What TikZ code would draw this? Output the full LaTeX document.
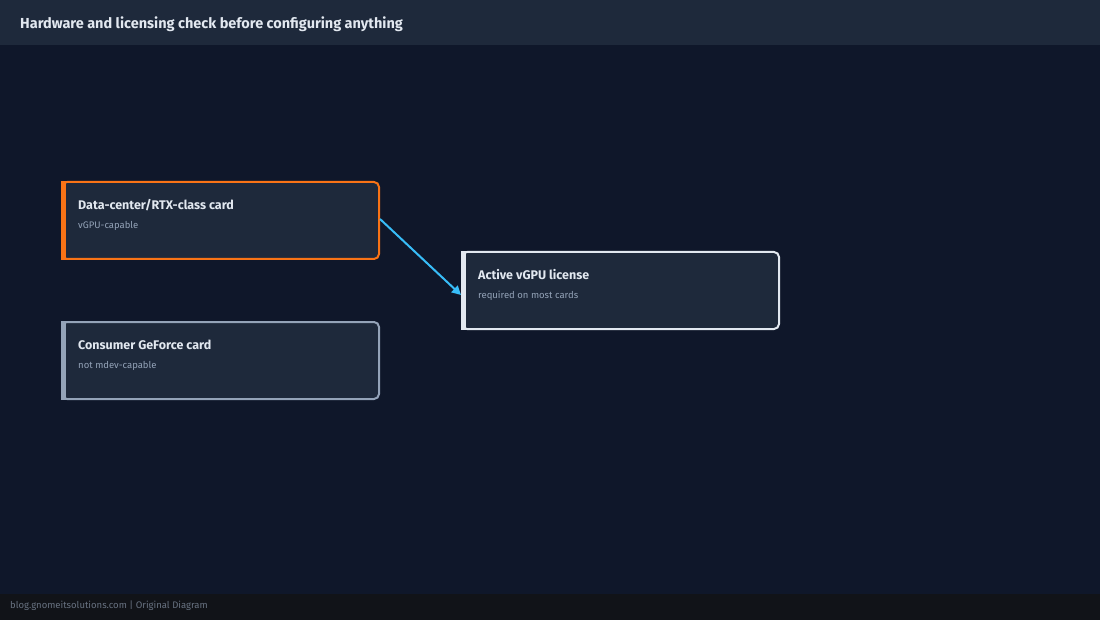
\documentclass[tikz,border=0pt]{standalone}
\usepackage{fontspec}
\setmainfont{Fira Sans}
\usetikzlibrary{arrows.meta}
\definecolor{bg}{HTML}{0F172A}
\definecolor{hdr}{HTML}{1E293B}
\definecolor{foot}{HTML}{111318}
\definecolor{card}{HTML}{1E293B}
\definecolor{orng}{HTML}{F97316}
\definecolor{gry}{HTML}{94A3B8}
\definecolor{wht}{HTML}{E2E8F0}
\definecolor{sky}{HTML}{38BDF8}
\begin{document}
\begin{tikzpicture}[x=1pt,y=-1pt,
 card/.style={draw=#1,fill=card,line width=2pt,rounded corners=5pt},
 ttl/.style={anchor=west,text=wht,font=\fontsize{12.5}{14}\selectfont\bfseries,inner sep=0},
 sub/.style={anchor=west,text=gry,font=\fontsize{9.5}{11}\selectfont,inner sep=0}]
\useasboundingbox (0,0) rectangle (1100,620);
\fill[bg] (0,0) rectangle (1100,620);
\fill[hdr] (0,0) rectangle (1100,45);
\node[anchor=west,text=wht,font=\fontsize{14.5}{16}\selectfont\bfseries,inner sep=0] (title) at (20,24) {Hardware and licensing check before configuring anything};
\fill[foot] (0,594) rectangle (1100,620);
\node[anchor=west,text=gry!70!black,font=\fontsize{9.5}{11}\selectfont,inner sep=0] (ft) at (10,606) {blog.gnomeitsolutions.com | Original Diagram};
% cards
\draw[card=orng] (62,182) rectangle (379,259);
\fill[orng] (61,181) rectangle (66,260);
\node[inner sep=0] (a) at (220.5,220.5) {};
\node[ttl] (at) at (78,205) {Data-center/RTX-class card};
\node[sub] (as) at (78,226) {vGPU-capable};
\draw[card=gry] (62,322) rectangle (379,399);
\fill[gry] (61,321) rectangle (66,400);
\node[ttl] (bt) at (78,345) {Consumer GeForce card};
\node[sub] (bs) at (78,366) {not mdev-capable};
\draw[card=wht] (462,252) rectangle (779,329);
\fill[wht] (461,251) rectangle (466,330);
\node[ttl] (ct) at (478,275) {Active vGPU license};
\node[sub] (cs) at (478,296) {required on most cards};
\coordinate (p1) at (380,219);
\coordinate (p2) at (461,295);
\draw[sky,line width=2pt,-{Triangle[length=9pt,width=9pt]}] (p1) -- (p2);
\end{tikzpicture}
\end{document}
